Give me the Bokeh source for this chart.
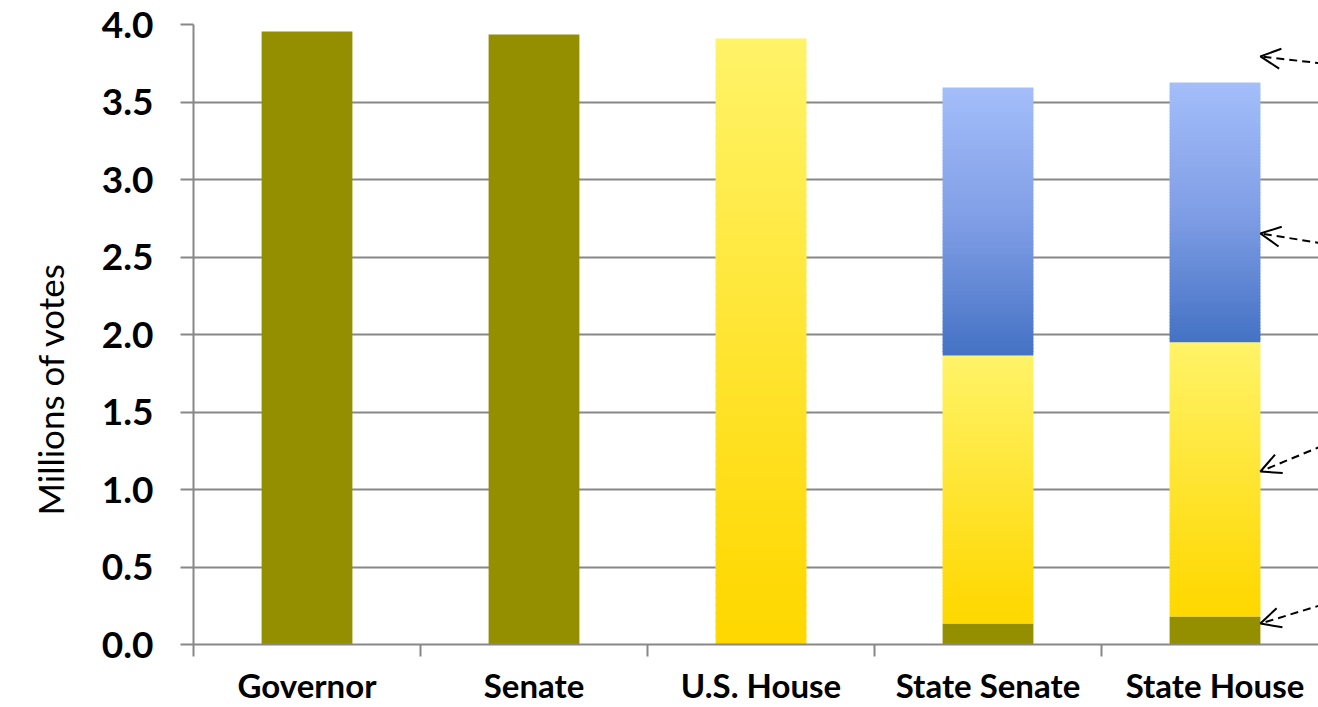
import math
from bokeh.plotting import figure
from bokeh.models import (ColumnDataSource, FixedTicker, NumeralTickFormatter,
                          Arrow, OpenHead, Range1d, Title)
from bokeh.embed import file_html
from bokeh.resources import INLINE

# ---- data (millions of votes) ----
categories = ["Governor", "Senate", "U.S. House", "State Senate", "State House"]
olive_votes = [3.955, 3.935, 0.0, 0.135, 0.18]
yellow_votes = [0.0, 0.0, 3.91, 1.73, 1.77]
blue_votes = [0.0, 0.0, 0.0, 1.729, 1.676]
y_ticks = [0.0, 0.5, 1.0, 1.5, 2.0, 2.5, 3.0, 3.5, 4.0]
y_title = "Millions of votes"
# annotation arrows pointing at the State House bar (their labels fall outside the view)
arrow_targets = [3.794, 2.652, 1.116, 0.135]
arrow_sources = [3.748, 2.587, 1.284, 0.258]

OLIVE = "#948f00"
YELLOW_STOPS = [(0.0, (255, 216, 0)), (0.08, (255, 217, 5)), (1.0, (255, 243, 104))]
BLUE_STOPS = [(0.0, (68, 114, 196)), (0.5, (128, 158, 230)), (1.0, (164, 190, 250))]
BAR_W = 0.4
GRAY = "#888888"
N_SLICES = 80

W, H = 1318, 707
LEFT, TOP, BOTTOM = 193, 24, 63
CAT_PX = 227.0
frame_w = W - LEFT
x_end = frame_w / CAT_PX


def lerp_color(stops, t):
    for (t0, c0), (t1, c1) in zip(stops[:-1], stops[1:]):
        if t <= t1:
            f = 0 if t1 == t0 else (t - t0) / (t1 - t0)
            c = [round(a + (b - a) * f) for a, b in zip(c0, c1)]
            return "#%02x%02x%02x" % tuple(c)
    return "#%02x%02x%02x" % stops[-1][1]


p = figure(width=W, height=H, output_backend="svg", toolbar_location=None,
           x_range=Range1d(0, x_end), y_range=Range1d(0, 4.0),
           min_border_left=LEFT, min_border_right=0, min_border_top=TOP,
           min_border_bottom=BOTTOM, outline_line_color=None)

centers = [i + 0.5 for i in range(len(categories))]

# olive (solid) segments
src_o = ColumnDataSource(dict(
    left=[c - BAR_W / 2 for c in centers], right=[c + BAR_W / 2 for c in centers],
    bottom=[0.0] * len(centers), top=olive_votes))
p.quad(left="left", right="right", bottom="bottom", top="top", source=src_o,
       fill_color=OLIVE, line_color=None)


def gradient_segments(bottoms, heights, stops):
    d = dict(left=[], right=[], bottom=[], top=[], color=[])
    for c, b, h in zip(centers, bottoms, heights):
        if h <= 0:
            continue
        for k in range(N_SLICES):
            y0 = b + h * k / N_SLICES
            y1 = b + h * (k + 1) / N_SLICES + (h / N_SLICES * 0.3 if k < N_SLICES - 1 else 0)
            d["left"].append(c - BAR_W / 2)
            d["right"].append(c + BAR_W / 2)
            d["bottom"].append(y0)
            d["top"].append(y1)
            d["color"].append(lerp_color(stops, (k + 0.5) / N_SLICES))
    return ColumnDataSource(d)


src_y = gradient_segments(olive_votes, yellow_votes, YELLOW_STOPS)
p.quad(left="left", right="right", bottom="bottom", top="top", source=src_y,
       fill_color="color", line_color=None)

b_bottoms = [o + y for o, y in zip(olive_votes, yellow_votes)]
src_b = gradient_segments(b_bottoms, blue_votes, BLUE_STOPS)
p.quad(left="left", right="right", bottom="bottom", top="top", source=src_b,
       fill_color="color", line_color=None)

# arrows
tip_x = centers[-1] + BAR_W / 2
for yt, ys in zip(arrow_targets, arrow_sources):
    p.add_layout(Arrow(end=OpenHead(size=20, line_width=2, line_color="black"),
                       x_start=x_end + 0.02, y_start=ys, x_end=tip_x, y_end=yt,
                       line_dash="8 5", line_width=2, line_color="black"))

# y axis
yax = p.yaxis[0]
yax.ticker = FixedTicker(ticks=y_ticks)
yax.formatter = NumeralTickFormatter(format="0.0")
yax.major_label_text_font = "Lato"
yax.major_label_text_font_style = "bold"
yax.major_label_text_font_size = "37px"
yax.major_label_text_color = "black"
yax.major_label_standoff = 27
yax.major_tick_out = 13
yax.major_tick_in = 0
yax.minor_tick_out = 0
yax.minor_tick_in = 0
yax.axis_line_color = GRAY
yax.axis_line_width = 2
yax.major_tick_line_color = GRAY
yax.major_tick_line_width = 2

# y title in the left panel (off-centre, as in the original)
p.add_layout(Title(text=y_title, align="left", offset=129, standoff=52,
                   vertical_align="top",
                   text_font="Lato", text_font_style="normal",
                   text_font_size="35px", text_color="black"), "left")

# x axis: ticks between categories, category names at centres
xax = p.xaxis[0]
xax.ticker = FixedTicker(ticks=centers, minor_ticks=list(range(len(categories) + 1)))
xax.major_label_overrides = {c: name for c, name in zip(centers, categories)}
xax.major_label_text_font = "Lato"
xax.major_label_text_font_style = "bold"
xax.major_label_text_font_size = "33px"
xax.major_label_text_color = "black"
xax.major_label_standoff = 8
xax.major_tick_out = 0
xax.major_tick_in = 0
xax.major_tick_line_color = None
xax.minor_tick_out = 12
xax.minor_tick_in = 0
xax.minor_tick_line_color = GRAY
xax.minor_tick_line_width = 2
xax.axis_line_color = GRAY
xax.axis_line_width = 2

p.xgrid.grid_line_color = None
p.ygrid.ticker = FixedTicker(ticks=y_ticks)
p.ygrid.grid_line_color = GRAY
p.ygrid.grid_line_width = 2

open("out.html", "w").write(file_html(p, INLINE))
